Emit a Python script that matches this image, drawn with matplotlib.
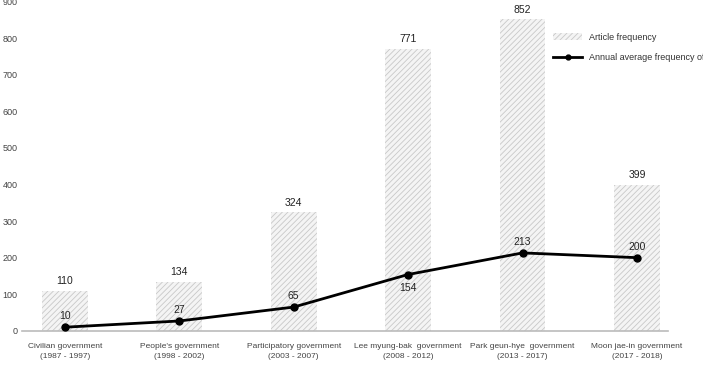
import matplotlib.pyplot as plt
import numpy as np

categories = ["Civilian government\n(1987 - 1997)", "People's government\n(1998 - 2002)",
              "Participatory government\n(2003 - 2007)", "Lee myung-bak  government\n(2008 - 2012)",
              "Park geun-hye  government\n(2013 - 2017)", "Moon jae-in government\n(2017 - 2018)"]
article_freq = [110, 134, 324, 771, 852, 399]
annual_avg = [10, 27, 65, 154, 213, 200]

plt.rcParams["font.family"] = ["Liberation Sans", "DejaVu Sans"]
plt.rcParams["hatch.color"] = "#c8c8c8"
plt.rcParams["hatch.linewidth"] = 0.6

fig = plt.figure(figsize=(7.03, 3.66), dpi=100)
ax = fig.add_axes([0.031, 0.096, 0.919, 0.9])

x = np.arange(len(categories))
bars = ax.bar(x, article_freq, width=0.4, color="#f4f4f4", edgecolor="#c8c8c8",
              linewidth=0, hatch="//////", label="Article frequency", zorder=1)
line, = ax.plot(x, annual_avg, color="black", linewidth=2, marker="o", markersize=5,
                label="Annual average frequency of articles", zorder=3)

for xi, v in zip(x, article_freq):
    ax.text(xi, v + 12, str(v), ha="center", va="bottom", fontsize=7.5, color="#222222")
for xi, v in zip(x, annual_avg):
    if v == 154:
        ax.text(xi, v - 22, str(v), ha="center", va="top", fontsize=7.5, color="#222222")
    else:
        ax.text(xi, v + 16, str(v), ha="center", va="bottom", fontsize=7.5, color="#222222")

ax.set_xlim(-0.376, 5.27)
ax.set_ylim(0, 900)
ax.set_yticks(range(0, 901, 100))
ax.set_xticks(x)
ax.set_xticklabels(categories, fontsize=6, color="#444444", linespacing=1.45)
ax.tick_params(axis="both", length=0, labelcolor="#444444")
ax.tick_params(axis="y", pad=3, labelsize=6.5)
ax.tick_params(axis="x", pad=9)
for s in ["top", "right", "left"]:
    ax.spines[s].set_visible(False)
ax.spines["bottom"].set_color("#bbbbbb")
ax.spines["bottom"].set_linewidth(1.2)

ax.legend([bars, line], ["Article frequency", "Annual average frequency of articles"],
          loc="upper left", bbox_to_anchor=(0.81, 0.93), frameon=False, fontsize=6.5,
          labelcolor="#333333", handlelength=3.2, labelspacing=1.3, markerscale=0.7)

plt.savefig("out.png", dpi=100)
